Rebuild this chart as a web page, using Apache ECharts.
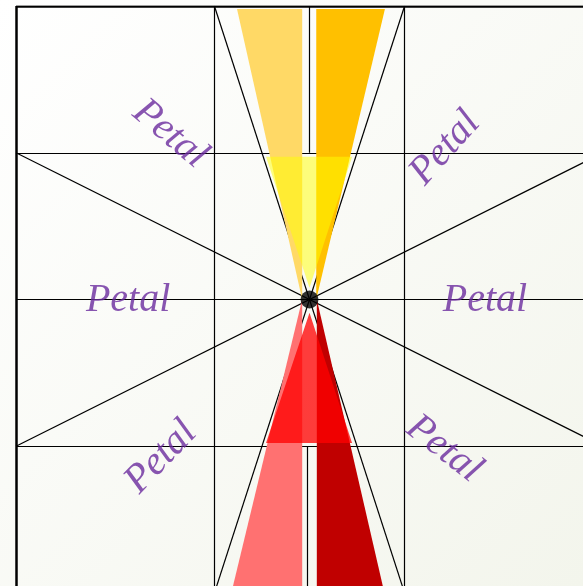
<!DOCTYPE html>
<html>
<head>
<meta charset="utf-8">
<script src="https://cdn.jsdelivr.net/npm/echarts@6/dist/echarts.min.js"></script>
<style>
  html, body { margin: 0; padding: 0; }
  #main { width: 583px; height: 586px; }
</style>
</head>
<body>
<div id="main"></div>
<script>
// frame and guide lines, in axis units (centre = 0, frame edge = 1)
var frameX = [-1, 1];
var frameY = [1, -1];
var gridX = [-0.324, 0.324];
var gridY = [0.5, 0, -0.5];
var centreCuts = [[-0.002, 1, -0.002, 0.5], [-0.007, -0.5, -0.007, -1]];
var spokeEnds = [[-1, 0.5], [1, -0.5], [-1, -0.5], [1, 0.5], [-0.324, 1], [0.324, -1], [0.324, 1], [-0.324, -1]];

// petals (outer layer)
var petalShapes = [
  [[-0.247, 0.99], [-0.025, 0.99], [-0.025, 0]],
  [[0.023, 0.99], [0.257, 0.99], [0.023, 0]],
  [[-0.025, 0], [-0.025, -0.99], [-0.264, -0.99]],
  [[0.025, 0], [0.025, -0.99], [0.253, -0.99]]
];
var petalColors = ['#FFD966', '#FFC000', '#FF7171', '#C00000'];

// inner overlay petals
var innerShapes = [
  [[-0.148, 0.486], [0.145, 0.486], [0, 0.04]],
  [[-0.148, -0.489], [0.145, -0.489], [0, -0.045]]
];
var innerColors = ['rgba(255,255,0,0.5)', 'rgba(255,0,0,0.76)'];

var hub = [[0, 0]];

var labelText = ['Petal', 'Petal', 'Petal', 'Petal', 'Petal', 'Petal'];
var labelAt = [[-0.618, -0.004], [0.598, -0.004], [-0.475, 0.564], [0.462, 0.516], [-0.506, -0.537], [0.458, -0.509]];
var labelTurn = [0, 0, -40, 48, 46, -38];

var myChart = echarts.init(document.getElementById('main'));

var lineData = [];
frameX.forEach(function (x) { lineData.push({ coords: [[x, 1], [x, -1]], lineStyle: { width: 2.5 } }); });
frameY.forEach(function (y) { lineData.push({ coords: [[-1, y], [1, y]], lineStyle: { width: 2.5 } }); });
gridX.forEach(function (x) { lineData.push({ coords: [[x, 1], [x, -1]] }); });
gridY.forEach(function (y) { lineData.push({ coords: [[-1, y], [1, y]] }); });
centreCuts.forEach(function (c) { lineData.push({ coords: [[c[0], c[1]], [c[2], c[3]]] }); });
for (var i = 0; i < spokeEnds.length; i += 2) {
  lineData.push({ coords: [spokeEnds[i], spokeEnds[i + 1]] });
}

function polygons(shapes, colors, z) {
  return {
    type: 'custom',
    coordinateSystem: 'cartesian2d',
    z: z,
    silent: true,
    clip: false,
    data: shapes.map(function (s) { return [s[0][0], s[0][1]]; }),
    renderItem: function (params, api) {
      return {
        type: 'polygon',
        shape: { points: shapes[params.dataIndex].map(function (p) { return api.coord(p); }) },
        style: { fill: colors[params.dataIndex] }
      };
    }
  };
}

var opt = {
  animation: false,
  backgroundColor: {
    type: 'linear', x: 0, y: 0, x2: 1, y2: 1,
    colorStops: [{ offset: 0, color: '#FFFFFF' }, { offset: 1, color: '#F3F5EC' }]
  },
  grid: { left: 16, top: 6, width: 587, height: 587, outerBoundsMode: 'none' },
  xAxis: { type: 'value', min: -1, max: 1, show: false },
  yAxis: { type: 'value', min: -1, max: 1, show: false },
  series: [
    {
      type: 'lines',
      coordinateSystem: 'cartesian2d',
      z: 1,
      silent: true,
      lineStyle: { color: '#000000', width: 1.2, opacity: 1, curveness: 0 },
      data: lineData
    },
    polygons(petalShapes, petalColors, 2),
    polygons(innerShapes, innerColors, 3),
    {
      type: 'scatter',
      z: 4,
      silent: true,
      symbol: 'circle',
      symbolSize: 18,
      itemStyle: { color: '#000000' },
      data: hub
    },
    {
      type: 'scatter',
      z: 5,
      silent: true,
      symbolSize: 0,
      data: labelAt.map(function (p, k) {
        return {
          value: p,
          label: {
            show: true,
            position: 'inside',
            formatter: labelText[k],
            rotate: labelTurn[k],
            align: 'center',
            verticalAlign: 'middle',
            fontFamily: 'Liberation Serif',
            fontStyle: 'italic',
            fontSize: 40,
            color: '#6A2A9E'
          }
        };
      })
    }
  ]
};
myChart.setOption(opt);
</script>
</body>
</html>
